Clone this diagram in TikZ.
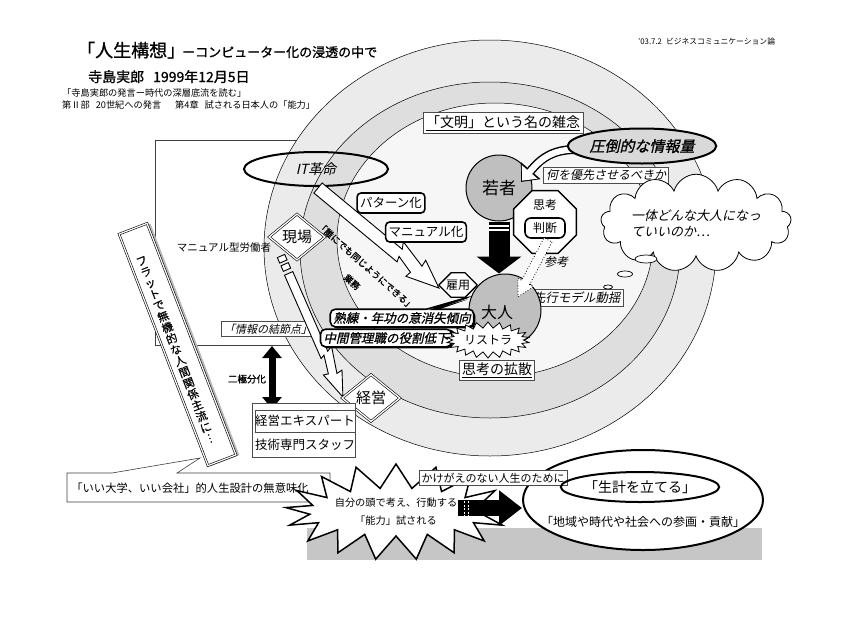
\documentclass[tikz,border=0pt]{standalone}
\usepackage{fontspec}
\setmainfont{Noto Sans CJK JP}
\newfontfamily\jpb{Noto Sans CJK JP}[FakeBold=1.0]
\newfontfamily\jpm{Noto Sans CJK JP}[FakeBold=0.6]
\newfontfamily\jpi{Noto Sans CJK JP}[FakeSlant=0.22]
\newfontfamily\jpbi{Noto Sans CJK JP}[FakeSlant=0.22,FakeBold=1.0]
\usetikzlibrary{shapes.geometric,shapes.symbols,shapes.misc,shapes.callouts,arrows.meta,calc,shadows}
\newcommand{\fsz}[1]{\fontsize{#1}{#1}\selectfont}
\tikzset{
  lbox/.style={draw=gray!60!black, line width=0.5pt, fill=white, inner sep=2.5pt},
  tbox/.style={draw, line width=1.6pt, rounded corners=4pt, fill=white, inner sep=3pt, minimum height=20pt},
  dia/.style={diamond, draw, double, double distance=1.3pt, line width=0.6pt, fill=white, inner sep=0pt},
  ring/.style={draw=black, line width=0.5pt},
  hollow/.style={draw=black, line width=0.9pt, fill=white, line join=miter},
  callbox/.style={rectangle callout, draw, line width=1.6pt, rounded corners=5pt, fill=white, inner sep=3pt,
                  drop shadow={shadow xshift=1.5pt, shadow yshift=-1.5pt, fill=black, opacity=1}},
}
\begin{document}
\begin{tikzpicture}[x=1pt,y=-1pt]
\useasboundingbox (0,0) rectangle (845,616);
\fill[white] (0,0) rectangle (845,616);

% frame behind rings
\draw[gray!50!black, line width=0.6pt] (330,140) -- (155,140) -- (155,345) -- (330,345);

% rings
\filldraw[ring, fill=gray!16] (490,248) ellipse [x radius=226, y radius=208];
\filldraw[ring, fill=gray!26] (490,250) ellipse [x radius=190, y radius=168];
\filldraw[ring, fill=gray!7] (495,240) ellipse [x radius=158, y radius=137];

% titles
\node[anchor=base west, inner sep=0pt] (title) at (77,57) {\fsz{18}\jpb 「人生構想」\hspace{-3pt}\fsz{13}ーコンピューター化の浸透の中で};
\node[anchor=base west, inner sep=0pt] (author) at (88,82) {\fsz{14}\jpb 寺島実郎\hspace{9pt}1999年12月5日};
\node[anchor=base west, inner sep=0pt] (src1) at (62,96) {\fsz{9.2}「寺島実郎の発言ー時代の深層底流を読む」};
\node[anchor=base west, inner sep=0pt] (src2) at (62,108) {\fsz{9.2}第Ⅱ部\hspace{6pt}20世紀への発言\hspace{14pt}第4章\hspace{6pt}試される日本人の「能力」};
\node[anchor=base west, inner sep=0pt] (hdr) at (638,44) {\fsz{7.8}’03.7.2\hspace{4pt}ビジネスコミュニケーション論};

% "いい大学" callout and flat box
\filldraw[fill=white, draw=gray!50!black, line width=0.6pt] (67,473) -- (112,473) -- (200,458) -- (177,473) -- (330,473) -- (330,502) -- (67,502) -- cycle;
\node (iidaigaku) at (190,488) {\fsz{11.3}「いい大学、いい会社」的人生設計の無意味化};

\node[rotate=21, minimum width=31pt, minimum height=248pt, fill=gray!55, inner sep=0pt] (flatsh) at (180.5,345) {};
\node[rotate=21, minimum width=30pt, minimum height=248pt, draw, line width=0.6pt, double, double distance=1.2pt, fill=white, inner sep=0pt] (flat) at (177.5,344.5) {};
\node[rotate=21, align=center, inner sep=0pt, font={\jpm\fontsize{11.2}{11.9}\selectfont}] (flattxt) at (176,350) {フ\\ラ\\ッ\\ト\\で\\無\\機\\的\\な\\人\\間\\関\\係\\主\\流\\に\\︙};

% IT revolution
\node[ellipse, draw, line width=2pt, minimum width=144pt, minimum height=34pt, inner sep=0pt] (it) at (316,169) {\fsz{14}\jpi IT革命};
\begin{scope}[shift={($(it.south)+(2,1)$)}, rotate=-39.6]
  \filldraw[hollow] (0,-6.5) -- (104,-6.5) -- (100,-13) -- (130,-6) -- (129,-13) -- (157,0) -- (124,12) -- (125,6) -- (106,1) -- (108,6.5) -- (0,6.5) -- cycle;
\end{scope}
\node[rotate=-41.5] (dare) at (366,266) {\fsz{9}\jpb 「誰にでも同じようにできる」};
\node[rotate=-41.5] (gyomu) at (352,282) {\fsz{9}\jpb 業務};
\node[tbox] (pattern) at (391,203) {\fsz{12.5}パターン化};
\node[tbox] (manualka) at (426,232) {\fsz{12.5}マニュアル化};

% genba / keiei
\node[lbox] (joho) at (268,329) {\fsz{11}\jpi 「情報の結節点」};
\node[dia, minimum width=56pt, minimum height=46pt] (genba) at (297,237) {\fsz{15}現場};
\node (manual) at (224,248) {\fsz{10.5}マニュアル型労働者};
\begin{scope}[shift={(281,256)}, rotate=-66.3]
  \filldraw[hollow] (0,-4) rectangle (6,4);
  \filldraw[hollow] (9,-4) rectangle (15,4);
  \filldraw[hollow] (19,-4.5) -- (106,-4.5) -- (103,-10) -- (130,-4) -- (129,-10) -- (154,0) -- (126,9) -- (127,4) -- (108,0.5) -- (110,4.5) -- (19,4.5) -- cycle;
\end{scope}
\node[dia, minimum width=58pt, minimum height=47pt] (keiei) at (371,398) {\fsz{15}経営};

\coordinate (dtop) at (272,346);
\coordinate (dbot) at (272,409);
\draw[line width=7pt, {Triangle[length=12pt,width=19pt]}-{Triangle[length=12pt,width=19pt]}] (dtop) -- (dbot);
\node (nikyoku) at (247,379) {\fsz{9.5}\jpb 二極分化};
\node[draw=gray!60!black, line width=0.5pt, fill=white, minimum width=103pt, minimum height=54pt] (staffbox) at (303.5,430) {};
\node[draw=gray!60!black, line width=0.5pt, fill=white, minimum width=96pt, minimum height=22pt, inner sep=0pt] (expert) at (305,421) {\fsz{12.5}経営エキスパート};
\node (staff) at (305,445) {\fsz{12.5}技術専門スタッフ};

% civilization
\node[lbox, inner sep=3pt] (bunmei) at (503,123) {\fsz{14}\underline{「文明」という名の雑念}};

% young / adult
\node[lbox, anchor=west] (senko) at (530,298) {\fsz{12.5}\jpi 先行モデル動揺};
\node[circle, draw, line width=1pt, fill=gray!50, minimum size=66pt, inner sep=0pt] (waka) at (499,188) {\fsz{17}若者};
\node[circle, draw, line width=1pt, fill=gray!50, minimum size=72pt, inner sep=0pt] (otona) at (505,310) {};
\node (otonalbl) at (497,312) {\fsz{16}大人};
\draw[line width=21pt, -{Triangle[length=17pt,width=44pt]}] (waka.south) -- (waka.south |- otona.north);
\draw[white, line width=1.2pt] (489,226) -- (509,226) (489,230) -- (509,230);

\node[lbox] (nani) at (606,175) {\fsz{12}\jpi 何を優先させるべきか};
\node[regular polygon, regular polygon sides=8, draw, line width=1.4pt, fill=white, minimum size=68pt, inner sep=0pt] (shiko) at (545,222) {};
\node (shikolbl) at (545,205) {\fsz{12}思考};
\node[draw, line width=1.6pt, rounded corners=6pt, fill=white, minimum width=40pt, minimum height=20pt, inner sep=1pt] (handan) at (545,228) {\fsz{12}判断};
\begin{scope}[shift={(548,240)}, rotate=-117.8]
  \filldraw[draw=black, line width=0.8pt, dotted, fill=white] (0,-4.5) -- (48,-4.5) -- (48,-9) -- (64,0) -- (48,9) -- (48,4.5) -- (0,4.5) -- cycle;
\end{scope}
\node (sanko) at (556,262) {\fsz{12}\jpi 参考};

% information overload
\draw[line width=9pt, -{Triangle[length=15pt,width=25pt]}] (600,153) .. controls (555,142) and (540,160) .. (521,182);
\draw[white, line width=6.2pt, -{Triangle[length=11.5pt,width=20pt]}, shorten >=1.8pt] (600,153) .. controls (555,142) and (540,160) .. (521,182);
\node[ellipse, draw, line width=2pt, fill=gray!30, minimum width=143pt, minimum height=35pt, inner sep=0pt] (atto) at (642,146) {\fsz{15}\jpbi 圧倒的な情報量};

% cloud
\node[cloud, draw, line width=0.8pt, fill=white, cloud puffs=13, aspect=2.8, minimum width=140pt, minimum height=52pt, inner sep=0pt, align=left, font={\jpi\fontsize{13}{16}\selectfont}] (cloud) at (696,223) {一体どんな大人になっ\\ていいのか…};
\node[ellipse, draw, line width=0.7pt, fill=white, minimum width=22pt, minimum height=8pt, inner sep=0pt] (bub1) at (646,259) {};
\node[ellipse, draw, line width=0.7pt, fill=white, minimum width=15pt, minimum height=6pt, inner sep=0pt] (bub2) at (625,274) {};
\node[ellipse, draw, line width=0.7pt, fill=white, minimum width=9pt, minimum height=4pt, inner sep=0pt] (bub3) at (608,287) {};

% employment
\node[callbox, callout absolute pointer={(469,297)}] (jukuren) at (402,318) {\fsz{12.5}\jpbi 熟練・年功の意消失傾向};
\node[callbox, callout absolute pointer={(464,339)}] (chukan) at (386,338) {\fsz{12.5}\jpbi 中間管理職の役割低下};
\node[chamfered rectangle, draw, line width=1.4pt, fill=white, chamfered rectangle xsep=6pt, chamfered rectangle ysep=6pt, inner sep=1pt] (koyo) at (458,285) {\fsz{12}雇用};
\node[starburst, draw, line width=0.8pt, fill=white, starburst points=22, starburst point height=6pt, random starburst=0, minimum width=70pt, minimum height=36pt, inner sep=1pt] (restra) at (488,340) {\fsz{12}リストラ};
\node[lbox] (kakusan) at (497,370) {\fsz{14}\underline{思考の拡散}};

% bottom
\fill[gray!45] (307,528) rectangle (762,560);
\node[starburst, draw, line width=1.5pt, fill=white, starburst points=17, starburst point height=24pt, random starburst=0, minimum width=178pt, minimum height=96pt, inner sep=0pt, align=center, font={\fontsize{10.2}{18}\selectfont}] (nouryoku) at (396,512) {自分の頭で考え、行動する\\「能力」試される};
\node[ellipse, draw, line width=2pt, fill=white, minimum width=240pt, minimum height=100pt] (bigell) at (643,500) {};
\node[lbox] (kakegae) at (493,478) {\fsz{11}かけがえのない人生のために};
\coordinate (arrS) at (458,508);
\draw[line width=16pt, -{Triangle[length=23pt,width=34pt]}] (arrS) -- (arrS -| bigell.west);
\draw[white, line width=1pt, dash pattern=on 2pt off 1.5pt] (464,501) -- (464,516) (468,501) -- (468,516);
\node[ellipse, draw, line width=2pt, minimum width=154pt, minimum height=30pt, inner sep=0pt] (seikei) at (640,487) {\fsz{14}「生計を立てる」};
\node (chiiki) at (643,522) {\fsz{12}「地域や時代や社会への参画・貢献」};
\end{tikzpicture}
\end{document}
